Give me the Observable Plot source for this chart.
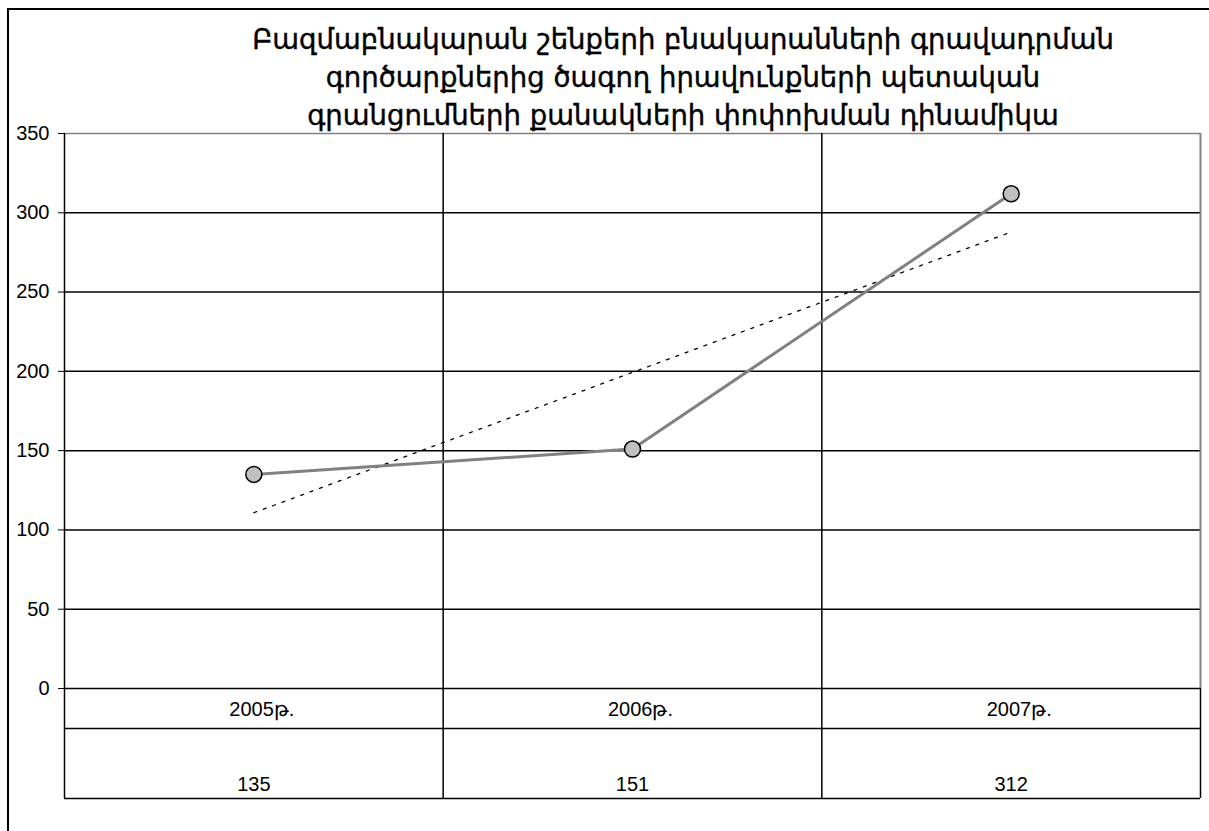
<!DOCTYPE html>
<html>
<head>
<meta charset="utf-8">
<script src="https://cdn.jsdelivr.net/npm/d3@7"></script>
<script src="https://cdn.jsdelivr.net/npm/@observablehq/plot@0.6"></script>
<style>
  html, body { margin: 0; padding: 0; background: #fff; overflow: hidden; }
  #wrap { position: relative; width: 1209px; height: 831px; overflow: hidden; }
  #frame { position: absolute; left: 7px; top: 8px; width: 1300px; height: 900px; border: 2px solid #000; box-sizing: border-box; }
  #title { position: absolute; left: 183px; width: 1000px; top: 20px; text-align: center;
           font-family: "DejaVu Sans", sans-serif; font-size: 27.5px; line-height: 38px; color: #000;
           -webkit-text-stroke: 0.4px #000; }
  #chart { position: absolute; left: 0; top: 0; }
</style>
</head>
<body>
<div id="wrap">
  <div id="frame"></div>
  <div id="chart"></div>
  <div id="title">Բազմաբնակարան շենքերի բնակարանների գրավադրման<br>գործարքներից ծագող իրավունքների պետական<br>գրանցումների քանակների փոփոխման դինամիկա</div>
</div>
<script>
const years = ["2005թ.", "2006թ.", "2007թ."];
const registrations = [135, 151, 312];
const yTicks = [0, 50, 100, 150, 200, 250, 300, 350];

const data = years.map((year, i) => ({ i, year, value: registrations[i] }));

// linear trendline (least squares) from the series
const n = data.length;
const mx = d3.mean(data, d => d.i);
const my = d3.mean(data, d => d.value);
const slope = d3.sum(data, d => (d.i - mx) * (d.value - my)) / d3.sum(data, d => (d.i - mx) ** 2);
const intercept = my - slope * mx;
const trend = data.map(d => ({ i: d.i, value: intercept + slope * d.i }));

const tableH = 110;
const dividers = d3.range(n + 1).map(k => k - 0.5);
const FONT = "'Liberation Sans', Arial, sans-serif";
const FS = 20;

const chart = Plot.plot({
  width: 1209,
  height: 831,
  marginTop: 133,
  marginBottom: 831 - 688,
  marginLeft: 64,
  marginRight: 9,
  style: { fontFamily: FONT, fontSize: FS + "px", color: "#000", background: "transparent", overflow: "visible" },
  x: { type: "linear", domain: [-0.5, n - 0.5], axis: null },
  y: { domain: [0, 350], axis: null },
  marks: [
    Plot.axisY(yTicks, { tickSize: 6, tickPadding: 9, fontSize: FS, fontFamily: FONT, label: null, tickFormat: d => String(d), stroke: "#000" }),
    Plot.ruleY(yTicks.filter(t => t < 350), { stroke: "#000", strokeWidth: 1.5 }),
    Plot.ruleY([350], { stroke: "#808080", strokeWidth: 1.5 }),
    // inner vertical dividers, continuing into the data table
    Plot.ruleX(dividers.slice(1, -1), { stroke: "#000", strokeWidth: 1.5, insetBottom: -tableH }),
    // left axis line
    Plot.ruleX([dividers[0]], { stroke: "#000", strokeWidth: 1.5, insetBottom: -tableH }),
    // right plot-area border (grey) and table border (dark)
    Plot.ruleX([dividers[n]], { stroke: "#808080", strokeWidth: 2 }),
    Plot.ruleX([dividers[n]], { stroke: "#000", strokeWidth: 1.5, insetTop: 555, insetBottom: -tableH }),
    // table horizontal lines
    Plot.ruleY([0], { stroke: "#000", strokeWidth: 1.5, dy: 40 }),
    Plot.ruleY([0], { stroke: "#000", strokeWidth: 1.5, dy: tableH }),
    // trendline
    Plot.line(trend, { x: "i", y: "value", stroke: "#000", strokeWidth: 1.3, strokeDasharray: "3,7" }),
    // series
    Plot.line(data, { x: "i", y: "value", stroke: "#808080", strokeWidth: 3 }),
    Plot.dot(data, { x: "i", y: "value", r: 8, fill: "#c0c0c0", stroke: "#000", strokeWidth: 1.5 }),
    // data table text
    Plot.text(data, { x: "i", text: "year", frameAnchor: "bottom", dy: 27, dx: 8, fill: "#000", fontSize: FS, fontFamily: FONT }),
    Plot.text(data, { x: "i", text: d => String(d.value), frameAnchor: "bottom", dy: 102, fill: "#000", fontSize: FS, fontFamily: FONT })
  ]
});
document.getElementById("chart").appendChild(chart);
</script>
</body>
</html>
